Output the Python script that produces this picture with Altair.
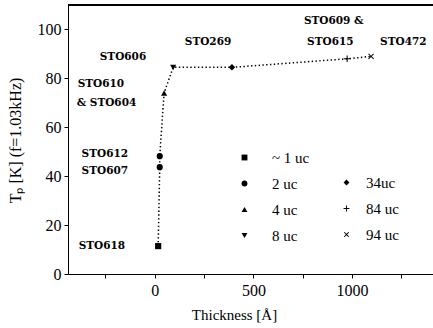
import altair as alt
import pandas as pd

# measured points
sample = ["STO618", "STO607", "STO612", "STO610/604", "STO606", "STO269", "STO609/615", "STO472"]
thickness = [17, 25, 25, 47, 93, 391, 975, 1096]
tp = [11.4, 43.7, 48.2, 74.0, 84.5, 84.5, 88.0, 89.0]
group = ["~ 1 uc", "2 uc", "2 uc", "4 uc", "8 uc", "34uc", "84 uc", "94 uc"]

groups_a = ["~ 1 uc", "2 uc", "4 uc", "8 uc"]
shapes_a = ["square", "circle", "triangle-up", "triangle-down"]
groups_b = ["34uc", "84 uc", "94 uc"]
PLUS = ("M-1,-0.16L-0.16,-0.16L-0.16,-1L0.16,-1L0.16,-0.16L1,-0.16L1,0.16"
        "L0.16,0.16L0.16,1L-0.16,1L-0.16,0.16L-1,0.16Z")
XMARK = ("M-0.9,-0.68L-0.68,-0.9L0,-0.22L0.68,-0.9L0.9,-0.68L0.22,0L0.9,0.68"
         "L0.68,0.9L0,0.22L-0.68,0.9L-0.9,0.68L-0.22,0Z")
shapes_b = ["diamond", PLUS, XMARK]

# annotation labels (data coordinates)
ann_text = ["STO618", "STO607", "STO612", "STO610", "& STO604", "STO606",
            "STO269", "STO609 &", "STO615", "STO472"]
ann_x = [-386, -371, -371, -391, -396, -279, 152, 756, 772, 1142]
ann_y = [11.4, 42.2, 49.2, 77.6, 69.8, 88.6, 94.7, 103.3, 94.7, 94.7]

df = pd.DataFrame({"sample": sample, "thickness": thickness, "tp": tp,
                   "group": group, "order": list(range(len(sample)))})
ann = pd.DataFrame({"text": ann_text, "x": ann_x, "y": ann_y})

FONT = "Liberation Serif"
xscale = alt.Scale(domain=[-440, 1410], nice=False, zero=False)
yscale = alt.Scale(domain=[0, 110], nice=False)

xaxis = alt.Axis(values=[-250, 0, 250, 500, 750, 1000, 1250],
                 labelExpr="datum.value % 500 == 0 ? datum.label : ''",
                 format="d", title="Thickness [Å]", grid=False,
                 tickSize=4, labelFontSize=16, titleFontSize=15,
                 labelFont=FONT, titleFont=FONT, titleFontWeight="normal",
                 domainColor="black", tickColor="black", labelColor="black",
                 titleColor="black", labelPadding=4, titlePadding=9, titleX=166)
yaxis = alt.Axis(values=list(range(0, 111, 10)),
                 labelExpr="datum.value % 20 == 0 ? datum.label : ''",
                 title="Tₚ [K] (f=1.03kHz)", grid=False, tickSize=4,
                 labelFontSize=16, titleFontSize=16, labelFont=FONT,
                 titleFont=FONT, titleFontWeight="normal",
                 domainColor="black", tickColor="black", labelColor="black",
                 titleColor="black", labelPadding=3, titleX=-45, titleY=135)

base = alt.Chart(df)

line = base.mark_line(color="black", strokeDash=[1.4, 2.4], strokeWidth=1.5).encode(
    x=alt.X("thickness:Q", scale=xscale, axis=xaxis),
    y=alt.Y("tp:Q", scale=yscale, axis=yaxis),
    order="order:Q",
)

top_border = alt.Chart(df).mark_rule(color="black", strokeWidth=1.5).encode(
    x=alt.value(0), x2=alt.value(365), y=alt.value(0)
)

legend_common = dict(orient="none", title=None, labelFont=FONT, labelFontSize=15,
                     labelColor="black", symbolFillColor="black",
                     symbolStrokeColor="black", symbolStrokeWidth=0,
                     symbolSize=34, padding=0, rowPadding=10)

pts_a = base.transform_filter(
    alt.FieldOneOfPredicate(field="group", oneOf=groups_a)
).mark_point(filled=True, color="black", size=38, opacity=1).encode(
    x=alt.X("thickness:Q", scale=xscale),
    y=alt.Y("tp:Q", scale=yscale),
    shape=alt.Shape("group:N", scale=alt.Scale(domain=groups_a, range=shapes_a),
                    legend=alt.Legend(legendX=169, legendY=145, labelOffset=20, **legend_common)),
)

pts_b = base.transform_filter(
    alt.FieldOneOfPredicate(field="group", oneOf=groups_b)
).mark_point(filled=True, color="black", size=42, opacity=1).encode(
    x=alt.X("thickness:Q", scale=xscale),
    y=alt.Y("tp:Q", scale=yscale),
    shape=alt.Shape("group:N", scale=alt.Scale(domain=groups_b, range=shapes_b),
                    legend=alt.Legend(legendX=271, legendY=170, labelOffset=12, **legend_common)),
)

labels = alt.Chart(ann).mark_text(align="left", baseline="middle", font="DejaVu Serif",
                                  fontWeight="bold", fontSize=10.5, color="black").encode(
    x=alt.X("x:Q", scale=xscale),
    y=alt.Y("y:Q", scale=yscale),
    text="text:N",
)

chart = alt.layer(line, top_border, labels, pts_a, pts_b).resolve_scale(shape="independent").properties(
    width=365, height=269,
    autosize=alt.AutoSizeParams(type="none"),
    padding={"left": 68, "top": 5, "right": 0, "bottom": 54},
).configure_view(stroke=None).configure(background="white")

chart.save("out.html", embed_options={"renderer": "svg", "actions": False})
